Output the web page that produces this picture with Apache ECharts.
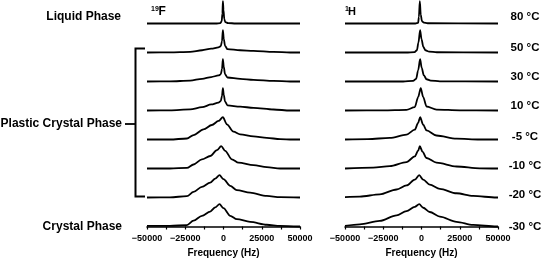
<!DOCTYPE html>
<html>
<head>
<meta charset="utf-8">
<script src="https://cdn.jsdelivr.net/npm/echarts@6/dist/echarts.min.js"></script>
<style>
  html, body { margin: 0; padding: 0; background: #fff; }
  #chart { width: 546px; height: 260px; }
</style>
</head>
<body>
<div id="chart"></div>
<script>
// temperatures, top to bottom
const temps = ['80 °C', '50 °C', '30 °C', '10 °C', '-5 °C', '-10 °C', '-20 °C', '-30 °C']
const xTicks = [-50000, -25000, 0, 25000, 50000]

// 19F spectra: [frequency Hz, normalised intensity]
const f19_80 = [[-50000,0],[-5000,0],[-2000,0.02],[-1200,0.1],[-700,0.45],[-400,1],[0,0.6],[500,0.2],[1200,0.06],[3000,0.02],[8000,0],[50000,0]]
const f19_50 = [[-50000,0],[-35000,0.005],[-21800,0.03],[-14000,0.1],[-8000,0.17],[-3300,0.23],[-1800,0.28],[-1000,0.5],[-400,1],[200,0.6],[1000,0.3],[2600,0.15],[10900,0.1],[19600,0.075],[32700,0.03],[43600,0],[50000,0]]
const f19_30 = [[-50000,0],[-35000,0.005],[-21800,0.04],[-14000,0.12],[-8000,0.2],[-3300,0.27],[-1800,0.32],[-1000,0.55],[-400,1],[200,0.65],[1000,0.33],[2600,0.18],[10900,0.12],[19600,0.075],[32700,0.03],[43600,0],[50000,0]]
const f19_10 = [[-50000,0],[-35000,0.01],[-21800,0.05],[-14000,0.15],[-8000,0.27],[-3300,0.35],[-1800,0.42],[-1000,0.65],[-400,1],[200,0.7],[1000,0.4],[2600,0.23],[10900,0.17],[19600,0.12],[32700,0.045],[43600,0],[50000,0]]
const f19_m5 = [[-50000,0],[-35000,0],[-23900,0.045],[-19600,0.2],[-13100,0.45],[-7600,0.65],[-3250,0.83],[-400,1],[2200,0.68],[6500,0.35],[10900,0.23],[19600,0.14],[28300,0.07],[37000,0.02],[45000,0],[50000,0]]
const f19_m10 = [[-50000,0],[-35000,0],[-23900,0.03],[-19600,0.18],[-14100,0.41],[-8700,0.56],[-4300,0.82],[-1500,1],[1100,0.79],[5500,0.41],[9800,0.26],[19600,0.15],[28300,0.06],[37000,0],[50000,0]]
const f19_m20 = [[-50000,0],[-35000,0.01],[-23900,0.06],[-19600,0.25],[-14100,0.48],[-8700,0.67],[-5400,0.85],[-2600,1],[0,0.82],[4400,0.52],[8700,0.33],[17400,0.22],[28300,0.07],[37000,0.015],[50000,0]]
const f19_m30 = [[-50000,0.03],[-35000,0.03],[-23900,0.06],[-19600,0.26],[-14100,0.48],[-8700,0.67],[-5400,0.86],[-2600,1],[0,0.82],[4400,0.48],[8700,0.33],[17400,0.21],[28300,0.08],[37000,0.03],[50000,0]]

// 1H spectra
const h1_80 = [[-50000,0],[-4000,0],[-2200,0.03],[-1700,0.3],[-1100,1],[-500,0.4],[300,0.1],[1500,0.04],[4000,0.01],[50000,0]]
const h1_50 = [[-50000,0],[-10000,0],[-4500,0.02],[-3000,0.1],[-2000,0.45],[-900,1],[0,0.6],[1200,0.25],[2600,0.1],[5000,0.04],[10000,0.01],[50000,0]]
const h1_30 = [[-50000,0],[-12000,0],[-5500,0.03],[-3500,0.12],[-2200,0.5],[-900,1],[100,0.62],[1500,0.28],[3300,0.1],[6000,0.04],[12000,0.01],[50000,0]]
const h1_10 = [[-50000,0],[-25000,0.01],[-9800,0.03],[-4400,0.15],[-2200,0.6],[-500,1],[1100,0.6],[3300,0.18],[9800,0.04],[25000,0.01],[50000,0]]
const h1_m5 = [[-50000,0],[-35000,0.02],[-20700,0.07],[-9800,0.22],[-4400,0.44],[-2200,0.74],[-900,1],[1100,0.66],[3300,0.41],[9800,0.18],[22900,0.04],[38100,0],[50000,0]]
const h1_m10 = [[-50000,0],[-31600,0.04],[-20700,0.11],[-9800,0.29],[-4400,0.54],[-2200,0.8],[-1100,1],[600,0.76],[3300,0.47],[9800,0.26],[22900,0.09],[38100,0.01],[50000,0]]
const h1_m20 = [[-50000,0.02],[-40300,0.04],[-27300,0.14],[-16300,0.36],[-9800,0.54],[-4400,0.8],[-1500,1],[1100,0.8],[5400,0.58],[12000,0.39],[22900,0.19],[33700,0.07],[49000,0],[50000,0]]
const h1_m30 = [[-50000,0.03],[-40300,0.1],[-27300,0.25],[-16300,0.5],[-9800,0.69],[-4400,0.88],[-1500,1],[1100,0.84],[5400,0.65],[12000,0.44],[22900,0.21],[33700,0.07],[49000,0],[50000,0]]

const fluorine = [f19_80, f19_50, f19_30, f19_10, f19_m5, f19_m10, f19_m20, f19_m30]
const proton = [h1_80, h1_50, h1_30, h1_10, h1_m5, h1_m10, h1_m20, h1_m30]

const PEAK = 0.77   // peak height relative to the trace spacing
const FONT = 'Liberation Sans, Arial, sans-serif'

const chart = echarts.init(document.getElementById('chart'))

// stack traces: top trace gets the highest offset
const makeSeries = (list, axisIdx) => list.map((arr, i) => ({
  type: 'line',
  xAxisIndex: axisIdx,
  yAxisIndex: axisIdx,
  name: temps[i],
  data: arr.map(p => [p[0], (list.length - 1 - i) + p[1] * PEAK]),
  showSymbol: false,
  smooth: 0.3,
  smoothMonotone: 'x',
  silent: true,
  lineStyle: { color: '#000', width: 1.8 }
}))

const xAxisBase = gi => ({
  type: 'value',
  gridIndex: gi,
  min: -50000,
  max: 50000,
  interval: 25000,
  name: 'Frequency (Hz)',
  nameLocation: 'middle',
  nameGap: 17,
  nameTextStyle: { fontFamily: FONT, fontWeight: 'bold', fontSize: 10, color: '#000' },
  splitLine: { show: false },
  axisLine: { lineStyle: { color: '#000', width: 1.5 } },
  axisTick: { length: 3, lineStyle: { color: '#000', width: 1.2 } },
  minorTick: { show: true, splitNumber: 2, length: 3, lineStyle: { color: '#000', width: 1.2 } },
  axisLabel: {
    margin: 4,
    fontFamily: FONT, fontWeight: 'bold', fontSize: 9, color: '#000',
    showMinLabel: true, showMaxLabel: true,
    formatter: v => xTicks.includes(v) ? String(v).replace('-', '\u2212') : ''
  }
})

const yAxisBase = gi => ({
  type: 'value', gridIndex: gi, min: -0.12, max: 7.81, show: false
})

const txt = (text, x, y, opt = {}) => ({
  type: 'text', x, y, silent: true,
  style: Object.assign({
    text, fill: '#000', font: `bold 12px ${FONT}`,
    align: 'right', verticalAlign: 'middle'
  }, opt)
})

const labels = [
  txt('Liquid Phase', 121, 17),
  txt('Plastic Crystal Phase', 122, 124),
  txt('Crystal Phase', 122, 227),
  txt('19', 151, 9, { align: 'left', font: `bold 7px ${FONT}` }),
  txt('F', 158.5, 11.5, { align: 'left', font: `bold 12px ${FONT}` }),
  txt('1', 345, 9, { align: 'left', font: `bold 7px ${FONT}` }),
  txt('H', 348, 11.5, { align: 'left', font: `bold 11px ${FONT}` })
]
const labelY = [17, 48, 77, 106, 137, 166, 195, 227]
temps.forEach((t, i) => labels.push(txt(t, 525, labelY[i], { align: 'center', font: `bold 11.5px ${FONT}` })))

// bracket for the plastic crystal phase
const bracket = {
  type: 'polyline', silent: true,
  shape: { points: [[145, 48.5], [135.5, 48.5], [135.5, 196.5], [145, 196.5]] },
  style: { stroke: '#000', lineWidth: 2, fill: null }
}
const dash = {
  type: 'line', silent: true,
  shape: { x1: 125, y1: 124, x2: 135, y2: 124 },
  style: { stroke: '#000', lineWidth: 1.8 }
}

chart.setOption({
  backgroundColor: '#fff',
  animation: false,
  grid: [
    { left: 147, right: 246, top: 0, bottom: 30, outerBoundsMode: 'none' },
    { left: 345, right: 48, top: 0, bottom: 30, outerBoundsMode: 'none' }
  ],
  xAxis: [xAxisBase(0), xAxisBase(1)],
  yAxis: [yAxisBase(0), yAxisBase(1)],
  series: [...makeSeries(fluorine, 0), ...makeSeries(proton, 1)],
  graphic: [...labels, bracket, dash]
})
</script>
</body>
</html>
